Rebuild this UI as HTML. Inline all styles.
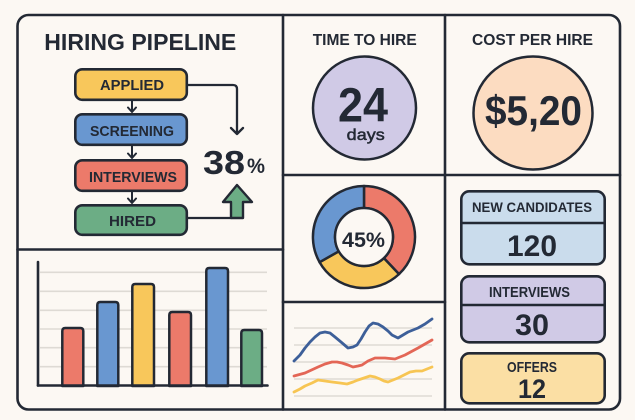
<!DOCTYPE html>
<html><head><meta charset="utf-8"><style>
html,body{margin:0;padding:0;background:#fcf8f3;}
svg{display:block;}
text{font-family:"Liberation Sans",sans-serif;font-weight:bold;fill:#232934;}
</style></head><body>
<svg width="635" height="420" viewBox="0 0 635 420" xmlns="http://www.w3.org/2000/svg">
<rect x="0" y="0" width="635" height="420" fill="#fcf8f3"/>
<g stroke="#232934" stroke-width="2.6" fill="none" stroke-linecap="round" stroke-linejoin="round">
<rect x="17.5" y="15" width="602.5" height="394.5" rx="11"/>
<line x1="283" y1="15" x2="283" y2="409.5"/>
<line x1="445" y1="15" x2="445" y2="409.5"/>
<line x1="17.5" y1="249.5" x2="283" y2="249.5"/>
<line x1="283" y1="175" x2="620" y2="175"/>
<line x1="283" y1="302" x2="445" y2="302"/>
</g>

<!-- Hiring pipeline -->
<text x="44.3" y="50" font-size="23" textLength="192" lengthAdjust="spacingAndGlyphs">HIRING PIPELINE</text>
<g stroke="#232934" stroke-width="2.6" stroke-linejoin="round" stroke-linecap="round">
<rect x="75.3" y="69.3" width="111.5" height="30.5" rx="7" fill="#f8c75b"/>
<rect x="75.3" y="114.3" width="111.5" height="30.5" rx="7" fill="#6997d0"/>
<rect x="75.3" y="160.3" width="111.5" height="30.5" rx="7" fill="#ec7a6a"/>
<rect x="75.3" y="205.3" width="111.5" height="29.5" rx="7" fill="#6cad85"/>
<g fill="none" stroke-width="2">
<path d="M132,100 V112 M128,107.5 L132,112 L136,107.5"/>
<path d="M132,145 V158 M128,153.5 L132,158 L136,153.5"/>
<path d="M132,191 V203 M128,198.5 L132,203 L136,198.5"/>
</g>
<path d="M187,85 H233 Q237,85 237,89 V134 M231,128 L237,134 L243,128" fill="none" stroke-width="2.3"/>
<path d="M187,218 H231" fill="none" stroke-width="2.3"/>
<polygon points="237,185 252,202 243,202 243,218 231,218 231,202 223,202" fill="#6cad85" stroke-width="2.4"/>
</g>
<text x="100" y="90" font-size="15" textLength="64" lengthAdjust="spacingAndGlyphs">APPLIED</text>
<text x="90" y="136" font-size="15" textLength="84" lengthAdjust="spacingAndGlyphs">SCREENING</text>
<text x="89" y="182" font-size="15" textLength="88" lengthAdjust="spacingAndGlyphs">INTERVIEWS</text>
<text x="109" y="226" font-size="15" textLength="47" lengthAdjust="spacingAndGlyphs">HIRED</text>
<text x="203" y="174" font-size="33" textLength="42" lengthAdjust="spacingAndGlyphs">38</text>
<text x="247" y="173" font-size="21" textLength="18" lengthAdjust="spacingAndGlyphs">%</text>

<!-- Bar chart -->
<g stroke="#dedad4" stroke-width="1.6">
<line x1="40" y1="272.3" x2="267" y2="272.3"/>
<line x1="40" y1="291.3" x2="267" y2="291.3"/>
<line x1="40" y1="310.3" x2="267" y2="310.3"/>
<line x1="40" y1="329" x2="267" y2="329"/>
<line x1="40" y1="347.7" x2="267" y2="347.7"/>
<line x1="40" y1="366.7" x2="267" y2="366.7"/>
</g>
<g stroke="#232934" stroke-width="2.5" stroke-linejoin="round">
<path d="M62.3,386 V331 Q62.3,328 65.3,328 H80.3 Q83.3,328 83.3,331 V386 Z" fill="#ec7a6a"/>
<path d="M97.3,386 V305 Q97.3,302 100.3,302 H115.3 Q118.3,302 118.3,305 V386 Z" fill="#6997d0"/>
<path d="M132.3,386 V287 Q132.3,284 135.3,284 H151 Q154,284 154,287 V386 Z" fill="#f8c75b"/>
<path d="M169.3,386 V315 Q169.3,312 172.3,312 H188 Q191,312 191,315 V386 Z" fill="#ec7a6a"/>
<path d="M206.3,386 V271 Q206.3,268 209.3,268 H225 Q228,268 228,271 V386 Z" fill="#6997d0"/>
<path d="M241.3,386 V333 Q241.3,330 244.3,330 H259 Q262,330 262,333 V386 Z" fill="#6cad85"/>
</g>
<g stroke="#232934" stroke-width="2.6" stroke-linecap="round" fill="none">
<line x1="38" y1="262" x2="38" y2="385.5"/>
<line x1="38" y1="385.5" x2="267.5" y2="385.5"/>
</g>

<!-- Time to hire -->
<text x="312.7" y="45" font-size="16" textLength="104" lengthAdjust="spacingAndGlyphs">TIME TO HIRE</text>
<circle cx="364.5" cy="108" r="51.5" fill="#d0cae6" stroke="#232934" stroke-width="2.5"/>
<text x="338" y="121.5" font-size="48" textLength="50" lengthAdjust="spacingAndGlyphs">24</text>
<text x="346.7" y="140" font-size="16" textLength="38" lengthAdjust="spacingAndGlyphs" style="font-weight:normal" stroke="#232934" stroke-width="0.5">days</text>

<!-- Cost per hire -->
<text x="472" y="45" font-size="16" textLength="121" lengthAdjust="spacingAndGlyphs">COST PER HIRE</text>
<ellipse cx="533" cy="113" rx="59.5" ry="56.5" fill="#fcdcc1" stroke="#232934" stroke-width="2.5"/>
<text x="485" y="125" font-size="42" textLength="97" lengthAdjust="spacingAndGlyphs">$5,20</text>

<!-- Donut -->
<g stroke="#232934" stroke-width="2.5" stroke-linejoin="round">
<path d="M364,186 A51,51 0 0 1 399,274.1 L383.9,258.1 A29,29 0 0 0 364,208 Z" fill="#ec7a6a"/>
<path d="M399,274.1 A51,51 0 0 1 319.6,262.2 L338.8,251.3 A29,29 0 0 0 383.9,258.1 Z" fill="#f8c75b"/>
<path d="M319.6,262.2 A51,51 0 0 1 364,186 L364,208 A29,29 0 0 0 338.8,251.3 Z" fill="#6997d0"/>
<circle cx="364" cy="237" r="29" fill="#fcf8f3"/>
</g>
<text x="342" y="247" font-size="21" textLength="43" lengthAdjust="spacingAndGlyphs">45%</text>

<!-- Line chart -->
<g stroke="#dedad4" stroke-width="1.6">
<line x1="294" y1="328" x2="432" y2="328"/>
<line x1="294" y1="345" x2="432" y2="345"/>
<line x1="294" y1="362" x2="432" y2="362"/>
<line x1="294" y1="379" x2="432" y2="379"/>
<line x1="294" y1="396" x2="432" y2="396"/>
</g>
<g fill="none" stroke-width="2.8" stroke-linecap="round" stroke-linejoin="round">
<polyline stroke="#3d5f99" points="294,361 300,355 305,348 310,342 315,337 320,333 325,332 330,333 335,337 341,342 348,348 353,347 357,345 361,339 365,332 369,326 373,323 378,324 383,327 388,331 392,335 398,338 403,335 408,332 418,328 425,324 432,319"/>
<polyline stroke="#e36656" points="294,376 305,373 318,367 325,364 332,362 337,362 342,363 348,365 353,367 358,366 362,365 368,361 375,358 385,358 395,359 405,355 418,348 432,340"/>
<polyline stroke="#f7c553" points="294,392 300,389 305,386 312,383 318,380 325,381 332,382 340,383 347,384 353,382 358,380 364,378 370,376 375,377 380,379 384,381 388,382 393,380 398,378 404,375 410,372 416,371 422,371 427,369 432,367"/>
</g>

<!-- Right boxes -->
<g stroke="#232934" stroke-width="2.6" stroke-linejoin="round">
<rect x="461.3" y="191.3" width="143.4" height="73" rx="8" fill="#cadcec"/>
<line x1="461.3" y1="223" x2="604.7" y2="223"/>
<rect x="461.3" y="276.3" width="143.4" height="66" rx="8" fill="#d0cae6"/>
<line x1="461.3" y1="305" x2="604.7" y2="305"/>
<rect x="461.3" y="353.3" width="143.4" height="50" rx="8" fill="#fbdfa4"/>
</g>
<text x="472" y="212" font-size="14" textLength="120" lengthAdjust="spacingAndGlyphs">NEW CANDIDATES</text>
<text x="507" y="256" font-size="30" textLength="50" lengthAdjust="spacingAndGlyphs">120</text>
<text x="489" y="297" font-size="15" textLength="81" lengthAdjust="spacingAndGlyphs">INTERVIEWS</text>
<text x="515" y="335" font-size="30" textLength="34" lengthAdjust="spacingAndGlyphs">30</text>
<text x="507" y="372" font-size="15" textLength="50" lengthAdjust="spacingAndGlyphs">OFFERS</text>
<text x="518" y="398" font-size="27" textLength="28" lengthAdjust="spacingAndGlyphs">12</text>
</svg>
</body></html>
